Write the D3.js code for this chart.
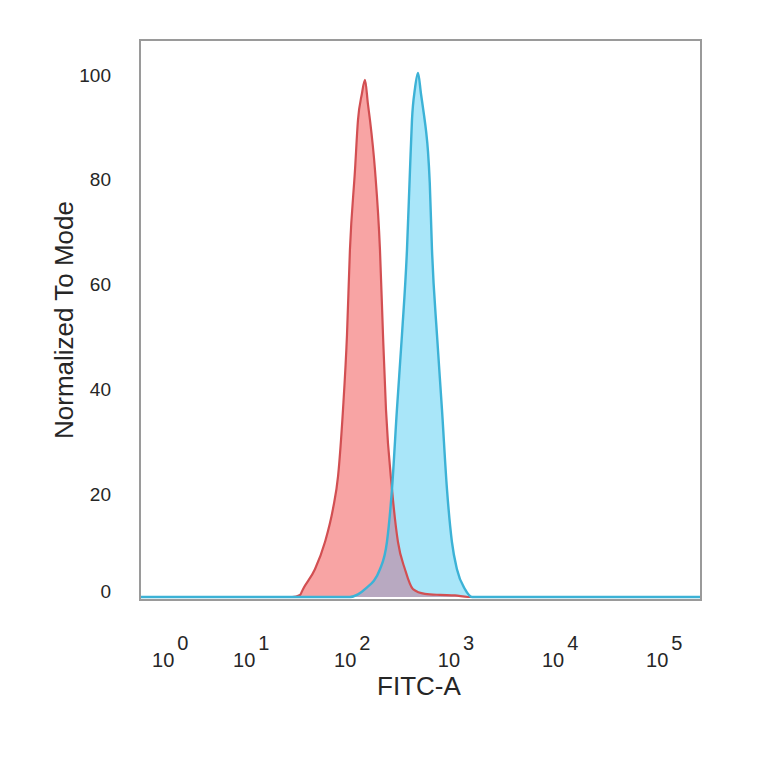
<!DOCTYPE html>
<html>
<head>
<meta charset="utf-8">
<script src="https://cdn.jsdelivr.net/npm/d3@7"></script>
<style>
  body { margin: 0; background: #fff; }
  text { font-family: "Liberation Sans", Arial, sans-serif; fill: #262626; }
</style>
</head>
<body>
<div id="chart"></div>
<script>
// histogram values (FITC-A intensity vs % of mode)
const fitcRed = [0.19, 27.8, 33.3, 35.6, 46.6, 58.4, 69.8, 78.2, 87.4, 95.5, 102, 114.2, 122, 133, 142.6, 152.4, 159.4, 178.1, 198.9, 212.8, 227.3, 259.7, 296.6, 346.3, 413.6, 539, 752, 1048, 1398, 242000];
const countRed = [0, 0, 0.4, 1.5, 5.3, 10.5, 16.8, 23, 35.8, 50, 66.3, 81.5, 91, 96, 98.7, 94, 91, 81.5, 66.3, 50, 35.8, 20.6, 10.5, 5.3, 1.5, 0.6, 0.4, 0.3, 0, 0];

const fitcBlue = [0.19, 102, 122.1, 142.6, 198.9, 232.2, 259.7, 289.9, 324, 362.2, 387.2, 404.5, 432.2, 462.5, 494.1, 527.8, 552.2, 577, 600, 630.2, 704, 786, 878, 980, 1095, 1307, 1527, 242000];
const countBlue = [0, 0, 0.5, 1.5, 5.3, 10.5, 20.6, 35.8, 50, 66.3, 81.5, 91, 97, 100, 96, 92, 89, 85, 79, 66.3, 50, 35.8, 20.6, 10.5, 5.3, 1.5, 0, 0];

const xTicks = [1, 10, 100, 1000, 10000, 100000];
const yTicks = [0, 20, 40, 60, 80, 100];

const svgWidth = 764, svgHeight = 764;
const plotLeft = 140, plotRight = 701, plotTop = 40, plotBottom = 600;

const svg = d3.select('#chart')
    .append('svg')
    .attr('width', svgWidth)
    .attr('height', svgHeight);

// biexponential-like axis, symlog fits the decade spacing
const xScale = d3.scaleSymlog()
    .constant(0.8)
    .domain([0.19, 242000])
    .range([plotLeft, plotRight]);

const yScale = d3.scaleLinear()
    .domain([0, 100])
    .range([597, 73]);

const redData = fitcRed.map((d, i) => [d, countRed[i]]);
const blueData = fitcBlue.map((d, i) => [d, countBlue[i]]);

const area = d3.area()
    .x(d => xScale(d[0]))
    .y0(yScale(0))
    .y1(d => yScale(d[1]))
    .curve(d3.curveMonotoneX);

const line = d3.line()
    .x(d => xScale(d[0]))
    .y(d => yScale(d[1]))
    .curve(d3.curveMonotoneX);

svg.append('defs')
    .append('clipPath')
    .attr('id', 'blueClip')
    .append('path')
    .attr('d', area(blueData));

svg.append('path')
    .attr('d', area(redData))
    .attr('fill', '#f8a4a4');

svg.append('path')
    .attr('d', area(blueData))
    .attr('fill', '#a9e6f9');

// where the two histograms overlap
svg.append('path')
    .attr('d', area(redData))
    .attr('clip-path', 'url(#blueClip)')
    .attr('fill', '#b8a9c1');

svg.append('path')
    .attr('d', line(redData))
    .attr('fill', 'none')
    .attr('stroke', '#d24f52')
    .attr('stroke-width', 2.2);

svg.append('path')
    .attr('d', line(blueData))
    .attr('fill', 'none')
    .attr('stroke', '#3cb2d6')
    .attr('stroke-width', 2.4);

// frame
svg.append('rect')
    .attr('x', plotLeft)
    .attr('y', plotTop)
    .attr('width', plotRight - plotLeft)
    .attr('height', plotBottom - plotTop)
    .attr('fill', 'none')
    .attr('stroke', '#9a9a9a')
    .attr('stroke-width', 2);

// y tick labels
svg.append('g')
    .selectAll('text')
    .data(yTicks)
    .enter()
    .append('text')
    .attr('x', 111)
    .attr('y', d => yScale(d) + (d === 0 ? -6 : 2))
    .attr('dy', '0.35em')
    .attr('text-anchor', 'end')
    .style('font-size', '19px')
    .text(d => d);

// x tick labels as 10^n
const xLabels = svg.append('g')
    .selectAll('text')
    .data(xTicks)
    .enter()
    .append('text')
    .attr('x', d => xScale(d) - 15)
    .attr('y', 667)
    .style('font-size', '20px');

xLabels.append('tspan').text('10');
xLabels.append('tspan')
    .attr('dx', 3)
    .attr('dy', -17)
    .style('font-size', '20px')
    .text(d => Math.round(Math.log10(d)));

svg.append('text')
    .attr('x', 419)
    .attr('y', 695)
    .attr('text-anchor', 'middle')
    .style('font-size', '26px')
    .text('FITC-A');

svg.append('text')
    .attr('transform', 'translate(73, 320) rotate(-90)')
    .attr('text-anchor', 'middle')
    .style('font-size', '26px')
    .text('Normalized To Mode');
</script>
</body>
</html>
